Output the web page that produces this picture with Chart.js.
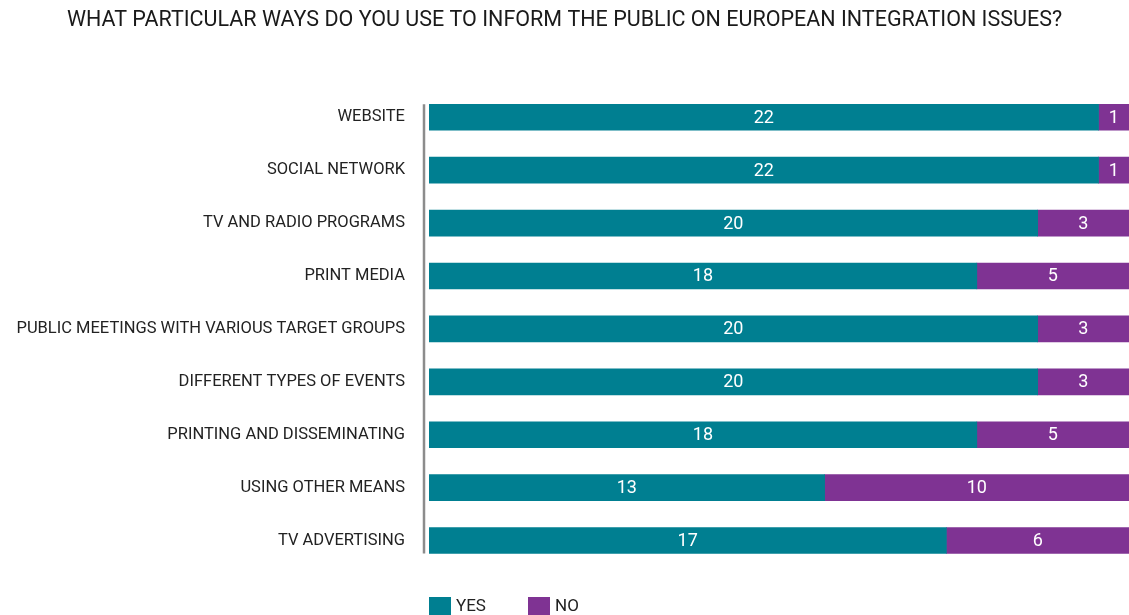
<!DOCTYPE html>
<html>
<head>
<meta charset="utf-8">
<script src="https://cdn.jsdelivr.net/npm/chart.js@4.4.1/dist/chart.umd.min.js"></script>
<style>
  html, body { margin: 0; padding: 0; background: #fff; overflow: hidden; }
  #wrap { width: 1129px; height: 615px; position: relative; }
</style>
</head>
<body>
<div id="wrap"><canvas id="waysChart"></canvas></div>
<script>
const FONT = "'Roboto', 'Liberation Sans', sans-serif";

const categories = [
    'WEBSITE',
    'SOCIAL NETWORK',
    'TV AND RADIO PROGRAMS',
    'PRINT MEDIA',
    'PUBLIC MEETINGS WITH VARIOUS TARGET GROUPS',
    'DIFFERENT TYPES OF EVENTS',
    'PRINTING AND DISSEMINATING',
    'USING OTHER MEANS',
    'TV ADVERTISING'
];
const yesValues = [22, 22, 20, 18, 20, 20, 18, 13, 17];
const noValues = [1, 1, 3, 5, 3, 3, 5, 10, 6];
const seriesNames = ['YES', 'NO'];
const seriesColors = ['#007f91', '#7f3393'];

// white numbers centred in each segment
const segmentLabels = {
    id: 'segmentLabels',
    afterDatasetsDraw(chart) {
        const ctx = chart.ctx;
        ctx.save();
        ctx.fillStyle = '#ffffff';
        ctx.font = '18px ' + FONT;
        ctx.textAlign = 'center';
        ctx.textBaseline = 'middle';
        chart.data.datasets.forEach((ds, i) => {
            chart.getDatasetMeta(i).data.forEach((bar, j) => {
                const v = ds.data[j];
                if (!v) return;
                ctx.fillText(String(v), (bar.x + bar.base) / 2, bar.y + 1);
            });
        });
        ctx.restore();
    }
};

// grey rule just left of the bars
const axisRule = {
    id: 'axisRule',
    beforeDatasetsDraw(chart) {
        const metas = chart.getDatasetMeta(0).data;
        const first = metas[0], last = metas[metas.length - 1];
        const x = chart.chartArea.left - 5;
        const ctx = chart.ctx;
        ctx.save();
        ctx.strokeStyle = '#8c8c8c';
        ctx.lineWidth = 2.5;
        ctx.beginPath();
        ctx.moveTo(x, first.y - first.height / 2);
        ctx.lineTo(x, last.y + last.height / 2);
        ctx.stroke();
        ctx.restore();
    }
};

// legend under the bars, starting at the bar origin
const bottomLegend = {
    id: 'bottomLegend',
    afterDraw(chart) {
        const ctx = chart.ctx;
        const x0 = chart.chartArea.left;
        const top = chart.chartArea.bottom + 30;
        const step = 99;
        ctx.save();
        ctx.font = '17px ' + FONT;
        ctx.textBaseline = 'middle';
        ctx.textAlign = 'left';
        chart.data.datasets.forEach((ds, i) => {
            const x = x0 + i * step;
            ctx.fillStyle = ds.backgroundColor;
            ctx.fillRect(x, top, 22, 18);
            ctx.fillStyle = '#222';
            ctx.fillText(ds.label, x + 27, top + 10);
        });
        ctx.restore();
    }
};

new Chart(document.getElementById('waysChart'), {
    type: 'bar',
    data: {
        labels: categories,
        datasets: [
            { label: seriesNames[0], data: yesValues, backgroundColor: seriesColors[0] },
            { label: seriesNames[1], data: noValues, backgroundColor: seriesColors[1] }
        ]
    },
    options: {
        indexAxis: 'y',
        responsive: true,
        maintainAspectRatio: false,
        animation: false,
        barThickness: 26,
        categoryPercentage: 1,
        layout: { padding: { top: 0, right: 0, bottom: 48, left: 0 } },
        scales: {
            x: {
                stacked: true,
                min: 0,
                max: 23,
                display: false
            },
            y: {
                stacked: true,
                grid: { display: false },
                border: { display: false },
                ticks: {
                    color: '#222',
                    padding: 16,
                    font: { family: FONT, size: 16.5 }
                },
                afterFit(scale) { scale.width = 429; }
            }
        },
        plugins: {
            title: {
                display: true,
                text: 'WHAT PARTICULAR WAYS DO YOU USE TO INFORM THE PUBLIC ON EUROPEAN INTEGRATION ISSUES?',
                color: '#1a1a1a',
                font: { family: FONT, size: 21.5, weight: 'normal' },
                padding: { top: 8, bottom: 57 }
            },
            legend: { display: false },
            tooltip: { enabled: false }
        }
    },
    plugins: [segmentLabels, axisRule, bottomLegend]
});
</script>
</body>
</html>
